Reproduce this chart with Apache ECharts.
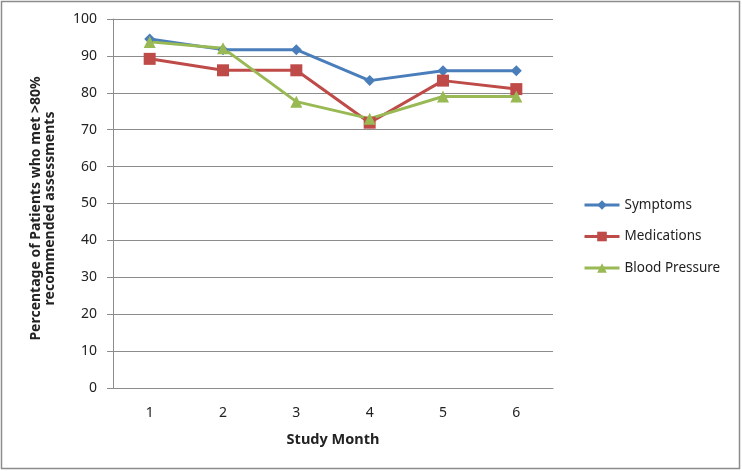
<!DOCTYPE html>
<html><head><meta charset="utf-8">
<script src="https://cdn.jsdelivr.net/npm/echarts@6/dist/echarts.min.js"></script>
<style>html,body{margin:0;padding:0;background:#fff}#c{width:742px;height:471px}</style>
</head><body><div id="c"></div>
<script>
const months = ['1','2','3','4','5','6'];
const symptoms = [94.6, 91.7, 91.7, 83.3, 86.0, 86.0];
const medications = [89.2, 86.1, 86.1, 71.9, 83.3, 81.0];
const bloodPressure = [93.8, 92.1, 77.6, 73.0, 79.0, 79.0];
const seriesNames = ['Symptoms', 'Medications', 'Blood Pressure'];
const font = 'Noto Sans';
const chart = echarts.init(document.getElementById('c'));
chart.setOption({
  animation: false,
  graphic: [{type:'rect', shape:{x:1.5,y:1.5,width:738,height:467}, style:{fill:'none', stroke:'#8c8c8c', lineWidth:1.5}}],
  grid: {left:113, right:189, top:19, bottom:83},
  legend: {
    orient:'vertical', left:578, top:193, itemGap:17.5, itemWidth:35, itemHeight:12,
    lineStyle:{width:3},
    textStyle:{fontFamily:font, fontSize:13.5, color:'#222'},
    data: seriesNames
  },
  xAxis: {
    type:'category', data: months, boundaryGap:true,
    name:'Study Month', nameLocation:'middle', nameGap:44,
    nameTextStyle:{fontFamily:font, fontSize:14.5, fontWeight:'bold', color:'#222'},
    axisLine:{lineStyle:{color:'#8c8c8c'}}, axisTick:{show:false},
    axisLabel:{fontFamily:font, fontSize:14, color:'#222', margin:18}
  },
  yAxis: {
    type:'value', min:0, max:100, interval:10,
    name:'Percentage of Patients who met >80%\nrecommended assessments', nameLocation:'middle', nameGap:56,
    nameTextStyle:{fontFamily:font, fontSize:14, fontWeight:'bold', color:'#222', lineHeight:14, padding:[0,10,0,0]},
    axisLine:{show:true, lineStyle:{color:'#8c8c8c'}},
    axisTick:{show:true, length:6, lineStyle:{color:'#8c8c8c'}},
    axisLabel:{fontFamily:font, fontSize:14, color:'#222', margin:16},
    splitLine:{lineStyle:{color:'#8c8c8c'}}
  },
  series: [
    {name:seriesNames[0], type:'line', data:symptoms, symbol:'diamond', symbolSize:11,
     lineStyle:{width:3, color:'#4a7ebb'}, itemStyle:{color:'#4a7ebb'}},
    {name:seriesNames[1], type:'line', data:medications, symbol:'rect', symbolSize:12,
     lineStyle:{width:3, color:'#be4b48'}, itemStyle:{color:'#be4b48'}},
    {name:seriesNames[2], type:'line', data:bloodPressure, symbol:'triangle', symbolSize:12,
     lineStyle:{width:3, color:'#98b954'}, itemStyle:{color:'#98b954'}}
  ]
});
</script></body></html>
